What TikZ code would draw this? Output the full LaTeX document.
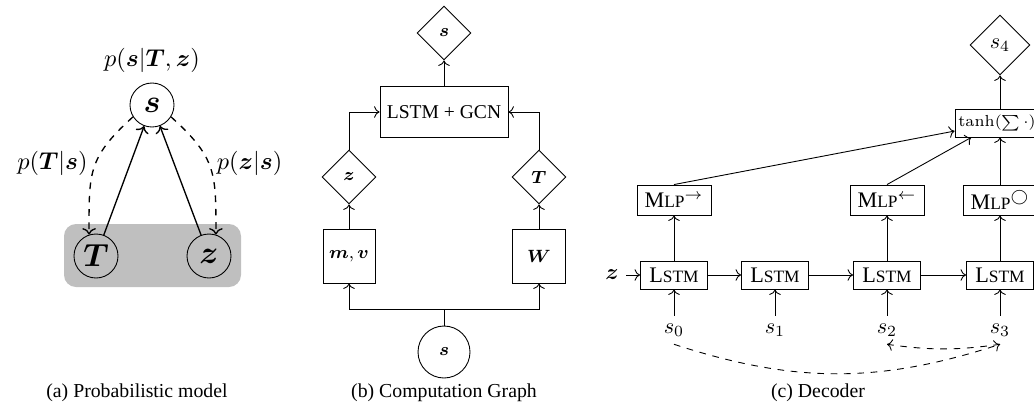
\documentclass[tikz,border=0pt]{standalone}
\usepackage{exscale}
\usepackage{bm}
\usepackage{fontspec}
\newfontfamily\timesfont{Liberation Serif}
\usetikzlibrary{shapes.geometric,arrows.meta}
\newcommand\PX{0.45pt}
\newcommand\fakesc[2]{{\timesfont #1{\fontsize{7.8}{9}\selectfont #2}}}
\begin{document}
\begin{tikzpicture}[x=0.45pt,y=-0.45pt,
  every node/.style={font=\fontsize{10}{12}\selectfont},
  cnode/.style={circle,draw,inner sep=0pt,minimum size=44*\PX,font=\fontsize{14.4}{16}\selectfont},
  alabel/.style={font=\fontsize{11}{13}\selectfont},
  dnode/.style={diamond,draw,inner sep=0pt,aspect=1},
  bfont/.style={font=\fontsize{8.5}{10}\selectfont},
  bnode/.style={rectangle,draw,inner sep=0pt},
  arr/.style={->,line width=0.4pt},
  thk/.style={->,semithick},
  captext/.style={font=\timesfont\fontsize{8.9}{11}\selectfont}
]
\useasboundingbox (0,0) rectangle (1034,410);
% ---------- panel (a)
\fill[gray!50,rounded corners=12*\PX] (64,224) rectangle (241,287);
\node[cnode] (as) at (152,105) {$\bm s$};
\node[cnode] (aT) at (96,256) {$\bm T$};
\node[cnode] (az) at (209,256) {$\bm z$};
\node[alabel] (alab) at (152,60) {$p(\bm s|\bm T,\bm z)$};
\draw[thk] (aT) -- (as);
\draw[thk] (az) -- (as);
\draw[thk,dashed] (as.212) to[out=222,in=90,looseness=1.25] node[alabel,pos=0.45,left=0pt] {$p(\bm T|\bm s)$} (aT.108);
\draw[thk,dashed] (as.328) to[out=-42,in=90,looseness=1.25] node[alabel,pos=0.45,right=0pt] {$p(\bm z|\bm s)$} (az.72);
\node[captext] (capa) at (137,393) {(a) Probabilistic model};
% ---------- panel (b)
\node[dnode,bfont,minimum size=54*\PX] (bs) at (444,33) {$\bm s$};
\node[bnode,minimum width=128*\PX,minimum height=51*\PX,font=\timesfont\fontsize{8.8}{11}\selectfont] (blg) at (444,112) {LSTM + GCN};
\node[dnode,bfont,minimum size=54*\PX] (bz) at (349,177) {$\bm z$};
\node[dnode,bfont,minimum size=54*\PX] (bT) at (539,177) {$\bm T$};
\node[bnode,bfont,minimum width=52*\PX,minimum height=54*\PX] (bmv) at (349,256) {$\bm m,\bm v$};
\node[bnode,bfont,minimum width=53*\PX,minimum height=54*\PX] (bW) at (539,256) {$\bm W$};
\node[circle,draw,bfont,inner sep=0pt,minimum size=52*\PX] (bcs) at (444,352) {$\bm s$};
\coordinate (bj) at (444,309);
\draw (bcs) -- (bj);
\draw[arr] (bj) -| (bmv);
\draw[arr] (bj) -| (bW);
\draw[arr] (bmv) -- (bz);
\draw[arr] (bW) -- (bT);
\draw[arr] (bz.north) |- (blg.west);
\draw[arr] (bT.north) |- (blg.east);
\draw[arr] (blg) -- (bs);
\node[captext] (capb) at (444,393) {(b) Computation Graph};
% ---------- panel (c)
\begin{scope}
\clip (0,0) rectangle (1034,410);
\node[dnode,minimum size=60*\PX] (cs4) at (1000,45) {$s_4$};
\node[bnode,minimum width=84*\PX,minimum height=28*\PX,font=\fontsize{7.2}{9}\selectfont] (ct) at (997,123) {$\tanh(\sum\cdot)$};
\node[bnode,minimum width=74*\PX,minimum height=30*\PX] (cm1) at (674,200) {\fakesc{M}{LP}$^{\rightarrow}$};
\node[bnode,minimum width=74*\PX,minimum height=30*\PX] (cm2) at (887,200) {\fakesc{M}{LP}$^{\leftarrow}$};
\node[bnode,minimum width=74*\PX,minimum height=30*\PX] (cm3) at (1000,200) {\fakesc{M}{LP}$^{\bigcirc}$};
\node[bnode,minimum width=67*\PX,minimum height=28*\PX] (cl1) at (674,275) {\fakesc{L}{STM}};
\node[bnode,minimum width=67*\PX,minimum height=28*\PX] (cl2) at (775,275) {\fakesc{L}{STM}};
\node[bnode,minimum width=67*\PX,minimum height=28*\PX] (cl3) at (887,275) {\fakesc{L}{STM}};
\node[bnode,minimum width=67*\PX,minimum height=28*\PX] (cl4) at (1000,275) {\fakesc{L}{STM}};
\end{scope}
\node (cz) at (612,275) {$\bm z$};
\node (cs0) at (674,330) {$s_0$};
\node (cs1) at (775,330) {$s_1$};
\node (cs2) at (887,330) {$s_2$};
\node (cs3) at (1000,330) {$s_3$};
\draw[arr] (cz) -- (cl1);
\draw[arr] (cl1) -- (cl2);
\draw[arr] (cl2) -- (cl3);
\draw[arr] (cl3) -- (cl4);
\draw[arr] (cs0) -- (cl1);
\draw[arr] (cs1) -- (cl2);
\draw[arr] (cs2) -- (cl3);
\draw[arr] (cs3) -- (cl4);
\draw[arr] (cl1) -- (cm1);
\draw[arr] (cl3) -- (cm2);
\draw[arr] (cl4) -- (cm3);
\draw[arr] (cm1.north) -- (ct);
\draw[arr] (cm2.north) -- (ct);
\draw[arr] (cm3.north) -- (cm3.north |- ct.south);
\draw[arr] (cs4.south |- ct.north) -- (cs4.south);
\draw[arr,dashed] (cs0.south) to[bend right=18] (cs3.south);
\draw[arr,dashed] (cs3.south) to[bend left=8] (cs2.south);
\node[captext] (capc) at (818,393) {(c) Decoder};
\end{tikzpicture}
\end{document}
